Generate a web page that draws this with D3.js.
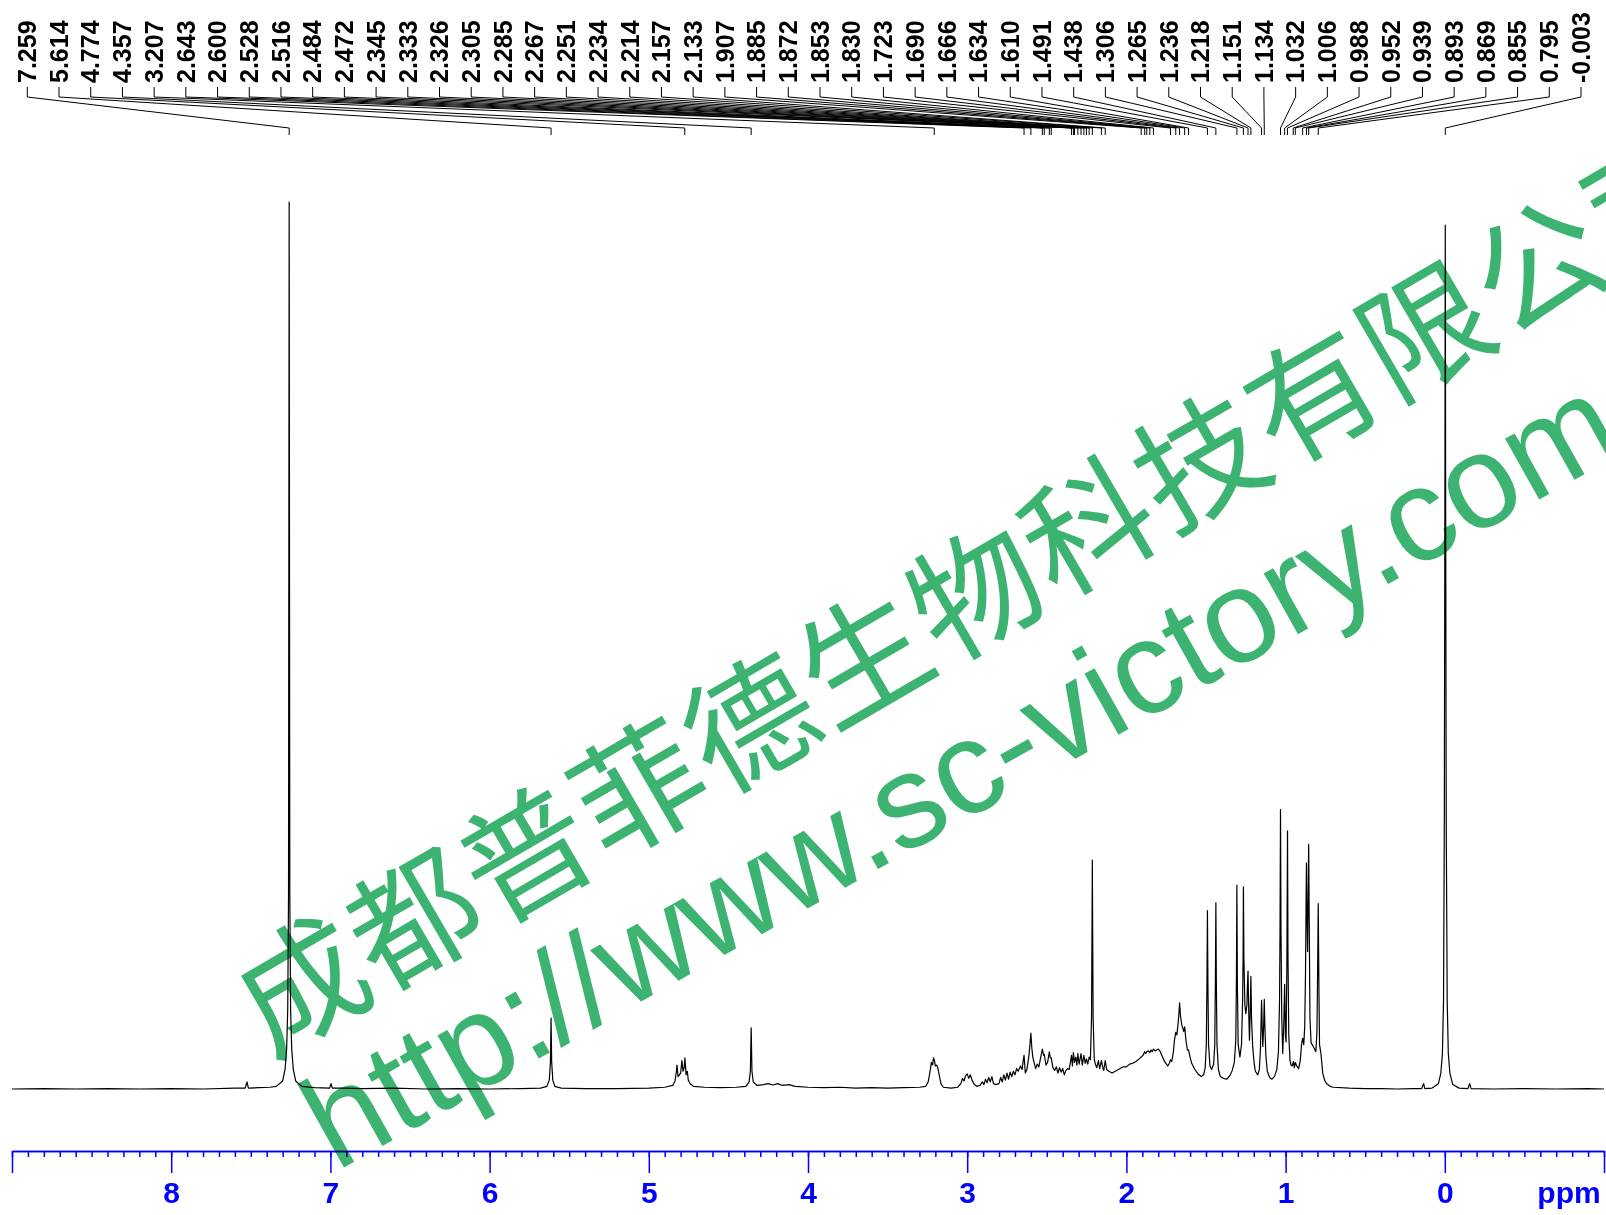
<!DOCTYPE html>
<html>
<head>
<meta charset="utf-8">
<script src="https://cdn.jsdelivr.net/npm/d3@7/dist/d3.min.js"></script>
<style>
  body { margin: 0; background: #fff; }
  svg { display: block; background: #fff; }
</style>
</head>
<body>
<svg width="1606" height="1215"></svg>
<script>
// Peak labels printed along the top (ppm)
const peakLabels = [
  "7.259", "5.614", "4.774", "4.357", "3.207", "2.643", "2.600", "2.528", "2.516", "2.484",
  "2.472", "2.345", "2.333", "2.326", "2.305", "2.285", "2.267", "2.251", "2.234", "2.214",
  "2.157", "2.133", "1.907", "1.885", "1.872", "1.853", "1.830", "1.723", "1.690", "1.666",
  "1.634", "1.610", "1.491", "1.438", "1.306", "1.265", "1.236", "1.218", "1.151", "1.134",
  "1.032", "1.006", "0.988", "0.952", "0.939", "0.893", "0.869", "0.855", "0.795", "-0.003",
];

// Axis ticks
const majorTicks = [9, 8, 7, 6, 5, 4, 3, 2, 1, 0, -1];
const tickLabels = ["", "8", "7", "6", "5", "4", "3", "2", "1", "0", ""];

// Spectrum trace: [ppm, intensity (% of tallest peak)]
const spectrum = [
  [9.0, 0.0], [8.8, 0.05], [8.6, 0.0], [8.4, 0.05], [8.2, 0.0], [8.0, 0.05], [7.8, 0.0], [7.6, 0.1],
  [7.535, 0.1], [7.524, 0.8], [7.515, 0.1],
  [7.45, 0.15], [7.38, 0.2], [7.34, 0.3], [7.30, 0.9], [7.285, 2.2], [7.275, 4.5], [7.268, 9],
  [7.263, 22], [7.259, 100], [7.255, 22], [7.250, 9], [7.243, 4.5], [7.233, 2.2], [7.218, 0.9],
  [7.18, 0.3], [7.10, 0.15], [7.005, 0.1], [6.996, 0.6], [6.988, 0.1],
  [6.9, 0.1], [6.8, 0.05], [6.6, 0.1], [6.4, 0.0], [6.2, 0.05], [6.0, 0.0], [5.8, 0.05],
  [5.68, 0.1], [5.64, 0.3], [5.625, 1.0], [5.618, 3.0], [5.614, 8.0], [5.610, 3.0], [5.603, 1.0],
  [5.59, 0.3], [5.55, 0.1], [5.4, 0.05], [5.2, 0.05], [5.0, 0.1], [4.9, 0.2], [4.85, 0.4],
  [4.835, 0.9], [4.828, 1.8], [4.823, 2.7], [4.816, 1.4], [4.80, 1.8], [4.792, 3.2], [4.785, 2.0],
  [4.778, 2.4], [4.773, 3.5], [4.766, 1.6], [4.758, 2.0], [4.752, 1.0], [4.74, 0.6], [4.72, 0.3],
  [4.65, 0.2], [4.55, 0.15], [4.45, 0.2], [4.39, 0.3], [4.37, 0.8], [4.362, 2.0], [4.357, 6.9],
  [4.352, 2.0], [4.344, 0.8], [4.32, 0.4], [4.28, 0.5], [4.25, 0.6], [4.22, 0.45], [4.19, 0.6],
  [4.16, 0.4], [4.12, 0.5], [4.08, 0.3], [4.0, 0.2], [3.9, 0.15], [3.8, 0.2], [3.7, 0.1],
  [3.6, 0.15], [3.5, 0.1], [3.4, 0.15], [3.3, 0.2], [3.26, 0.3], [3.245, 0.8], [3.235, 1.8],
  [3.225, 3.0], [3.217, 2.7], [3.212, 3.5], [3.207, 3.3], [3.200, 2.6], [3.192, 2.7], [3.185, 2.4],
  [3.175, 1.5], [3.165, 0.6], [3.15, 0.2], [3.10, 0.1], [3.06, 0.2], [3.04, 0.6], [3.03, 1.2],
  [3.02, 0.9], [3.01, 1.5], [3.0, 1.7], [2.99, 1.2], [2.98, 1.6], [2.97, 1.0], [2.955, 0.5],
  [2.94, 0.3], [2.92, 0.4], [2.905, 0.8], [2.895, 0.5], [2.885, 1.1], [2.875, 0.7], [2.865, 1.3],
  [2.855, 0.8], [2.845, 1.4], [2.835, 0.6], [2.82, 0.5], [2.80, 0.6], [2.79, 1.3], [2.78, 0.8],
  [2.77, 1.6], [2.76, 1.0], [2.75, 1.8], [2.74, 1.1], [2.73, 1.9], [2.72, 1.4], [2.71, 2.0],
  [2.70, 1.6], [2.69, 2.3], [2.68, 2.0], [2.665, 2.6], [2.655, 2.2], [2.648, 3.2], [2.643, 3.8],
  [2.635, 1.8], [2.625, 2.2], [2.612, 3.8], [2.605, 5.2], [2.600, 6.3], [2.594, 4.6], [2.588, 3.6],
  [2.580, 3.0], [2.570, 2.3], [2.560, 2.8], [2.550, 2.5], [2.540, 3.4], [2.528, 4.5], [2.520, 3.8],
  [2.516, 3.9], [2.505, 2.7], [2.495, 3.0], [2.484, 4.2], [2.478, 3.5], [2.472, 3.5], [2.462, 2.4],
  [2.45, 2.1], [2.44, 2.5], [2.43, 1.8], [2.42, 2.4], [2.41, 1.9], [2.40, 2.3], [2.39, 1.6],
  [2.38, 2.1], [2.37, 2.3], [2.36, 2.2], [2.35, 3.2], [2.345, 3.8], [2.339, 2.6], [2.333, 4.1],
  [2.326, 3.0], [2.318, 3.6], [2.311, 2.7], [2.305, 4.0], [2.297, 2.8], [2.285, 4.0], [2.277, 2.7],
  [2.267, 3.8], [2.259, 2.9], [2.251, 3.4], [2.243, 2.8], [2.234, 3.6], [2.226, 3.3], [2.219, 8],
  [2.216, 18], [2.214, 25.8], [2.212, 18], [2.209, 8], [2.202, 3.4], [2.195, 2.8], [2.186, 2.4],
  [2.176, 3.2], [2.168, 2.3], [2.157, 3.2], [2.148, 2.4], [2.142, 2.1], [2.133, 3.2], [2.124, 2.2],
  [2.11, 2.0], [2.09, 1.8], [2.07, 2.0], [2.05, 2.2], [2.02, 2.5], [2.0, 2.5], [1.98, 2.8],
  [1.96, 2.9], [1.94, 3.1], [1.92, 3.4], [1.907, 3.6], [1.895, 3.8], [1.885, 4.2], [1.878, 4.0],
  [1.872, 4.2], [1.862, 4.3], [1.853, 4.1], [1.845, 4.4], [1.838, 4.2], [1.830, 4.5], [1.82, 4.3],
  [1.81, 4.4], [1.80, 4.5], [1.79, 4.3], [1.78, 3.9], [1.77, 3.5], [1.757, 3.0], [1.74, 2.6],
  [1.73, 2.9], [1.723, 3.3], [1.715, 3.1], [1.705, 4.2], [1.698, 5.5], [1.690, 6.4], [1.683, 6.1],
  [1.675, 7.4], [1.670, 8.5], [1.666, 9.7], [1.660, 8.2], [1.652, 7.2], [1.645, 6.8], [1.640, 6.5],
  [1.634, 7.0], [1.626, 5.5], [1.617, 4.4], [1.610, 4.4], [1.600, 3.6], [1.59, 2.9], [1.57, 2.2],
  [1.55, 1.7], [1.53, 1.4], [1.515, 1.6], [1.505, 2.4], [1.498, 5], [1.494, 12], [1.491, 20.1],
  [1.488, 12], [1.484, 5], [1.475, 2.6], [1.465, 2.2], [1.452, 2.8], [1.445, 5], [1.441, 12],
  [1.438, 21.0], [1.435, 12], [1.431, 5], [1.422, 2.2], [1.41, 1.4], [1.39, 1.2], [1.37, 1.1],
  [1.35, 1.5], [1.335, 2.1], [1.322, 3.0], [1.313, 5.5], [1.309, 12], [1.306, 23.0], [1.303, 12],
  [1.298, 5], [1.287, 3.6], [1.277, 5], [1.270, 10], [1.267, 15], [1.265, 22.8], [1.262, 15],
  [1.256, 9.5], [1.250, 8.5], [1.243, 9.5], [1.239, 12], [1.236, 13.3], [1.232, 9], [1.227, 5.5],
  [1.222, 9], [1.218, 12.7], [1.214, 8], [1.207, 4.8], [1.198, 3], [1.19, 2.0], [1.175, 1.6],
  [1.165, 2.2], [1.158, 4.5], [1.154, 7.5], [1.151, 10.0], [1.147, 7], [1.143, 4.8], [1.138, 7],
  [1.134, 10.1], [1.130, 7], [1.124, 3.8], [1.115, 2.0], [1.10, 1.3], [1.087, 1.1], [1.07, 1.4],
  [1.055, 2.2], [1.045, 4.2], [1.038, 10], [1.035, 18], [1.032, 31.5], [1.029, 18], [1.024, 8],
  [1.018, 4.0], [1.012, 7], [1.006, 11.8], [1.001, 6], [0.997, 5.3], [0.992, 14], [0.988, 29.1],
  [0.985, 15], [0.980, 6], [0.972, 3.2], [0.966, 2.7], [0.958, 2.6], [0.951, 3.1], [0.945, 2.4],
  [0.939, 3.0], [0.930, 2.6], [0.918, 2.3], [0.908, 3.2], [0.900, 5.0], [0.893, 5.7], [0.886, 5.0],
  [0.880, 7], [0.875, 13], [0.871, 22], [0.869, 25.5], [0.866, 20], [0.862, 15.5], [0.858, 22],
  [0.855, 27.6], [0.852, 20], [0.847, 8], [0.840, 5.2], [0.826, 4.8], [0.81, 4.2], [0.803, 6.5],
  [0.799, 13], [0.795, 20.9], [0.791, 12], [0.787, 5], [0.778, 4], [0.767, 1.8], [0.755, 1.0],
  [0.742, 0.6], [0.72, 0.3], [0.70, 0.2], [0.6, 0.1], [0.5, 0.05], [0.4, 0.05], [0.3, 0.0],
  [0.2, 0.05], [0.145, 0.05], [0.133, 0.6], [0.125, 0.05], [0.08, 0.1], [0.04, 0.6], [0.025, 1.8],
  [0.015, 4], [0.008, 10], [0.003, 30], [-0.001, 70], [-0.003, 97.4], [-0.005, 70], [-0.009, 30],
  [-0.015, 10], [-0.022, 4], [-0.032, 1.8], [-0.05, 0.5], [-0.09, 0.1], [-0.145, 0.05],
  [-0.156, 0.6], [-0.165, 0.05], [-0.3, 0.0], [-0.5, 0.05], [-0.7, 0.0], [-0.9, 0.05], [-1.0, 0.0],
];

const watermarkCN = "成都普菲德生物科技有限公司";
const watermarkURL = "http://www.sc-victory.com";

const axisY = 1151;

const svg = d3.select("svg");

const x = d3.scaleLinear().domain([9, -1]).range([12, 1604]);
const y = d3.scaleLinear().domain([0, 100]).range([1089, 202]);

// spectrum line
const line = d3
  .line()
  .x((d) => x(d[0]))
  .y((d) => y(d[1]));

svg
  .append("path")
  .datum(spectrum)
  .attr("d", line)
  .attr("fill", "none")
  .attr("stroke", "#000")
  .attr("stroke-width", 1.2)
  .attr("stroke-linejoin", "round");

// minor ticks every 0.1 ppm
const minorTicks = d3.range(-10, 91).map((i) => i / 10);

const minorAxis = svg
  .append("g")
  .attr("transform", `translate(0,${axisY})`)
  .call(
    d3.axisBottom(x).tickValues(minorTicks).tickSize(6).tickSizeOuter(0).tickFormat("")
  );

const majorAxis = svg
  .append("g")
  .attr("transform", `translate(0,${axisY})`)
  .call(
    d3
      .axisBottom(x)
      .tickValues(majorTicks)
      .tickSize(22)
      .tickSizeOuter(0)
      .tickPadding(9)
      .tickFormat((d, i) => tickLabels[i])
  );

[minorAxis, majorAxis].forEach((g) => {
  g.selectAll("path, line").attr("stroke", "#0000ff").attr("stroke-width", 1.5);
});
majorAxis
  .selectAll("text")
  .attr("fill", "#0000ff")
  .attr("font-family", "Liberation Sans, Arial, sans-serif")
  .attr("font-weight", "bold")
  .attr("font-size", "30px");

svg
  .append("text")
  .text("ppm")
  .attr("x", 1569)
  .attr("y", 1203)
  .attr("text-anchor", "middle")
  .attr("fill", "#0000ff")
  .attr("font-family", "Liberation Sans, Arial, sans-serif")
  .attr("font-weight", "bold")
  .attr("font-size", "30px");

// peak labels with leader lines
const labelX = d3.scaleLinear().domain([0, peakLabels.length - 1]).range([27.3, 1581]);

svg
  .selectAll("path.leader")
  .data(peakLabels)
  .enter()
  .append("path")
  .attr("class", "leader")
  .attr("d", (d, i) => `M${labelX(i)},87V97L${x(+d)},128V135`)
  .attr("fill", "none")
  .attr("stroke", "#000")
  .attr("stroke-width", 1);

svg
  .selectAll("text.peak")
  .data(peakLabels)
  .enter()
  .append("text")
  .attr("class", "peak")
  .text((d) => d)
  .attr("transform", (d, i) => `translate(${labelX(i)},83) rotate(-90)`)
  .attr("dy", "0.35em")
  .attr("font-family", "Liberation Sans, Arial, sans-serif")
  .attr("font-weight", "bold")
  .attr("font-size", "25px")
  .attr("fill", "#000");

// watermark
const wm = svg.append("g").style("mix-blend-mode", "multiply");

wm.append("text")
  .text(watermarkCN)
  .attr("transform", "translate(270,1058) rotate(-30.2)")
  .attr("font-family", "Noto Sans CJK SC")
  .attr("font-size", "128px")
  .attr("letter-spacing", "2px")
  .attr("fill", "#3cb371");

wm.append("text")
  .text(watermarkURL)
  .attr("transform", "translate(336,1172) rotate(-29.2)")
  .attr("font-family", "Liberation Sans, Arial, sans-serif")
  .attr("font-size", "132px")
  .attr("fill", "#3cb371");
</script>
</body>
</html>
